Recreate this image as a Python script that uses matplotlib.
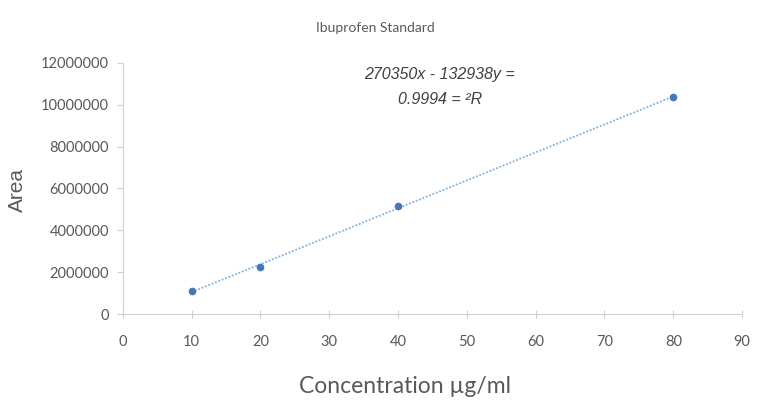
import numpy as np
import matplotlib.pyplot as plt

# data
conc = [10, 20, 40, 80]
area = [1100000, 2250000, 5150000, 10370000]
x_ticks = [0, 10, 20, 30, 40, 50, 60, 70, 80, 90]
y_ticks = [0, 2000000, 4000000, 6000000, 8000000, 10000000, 12000000]

fig = plt.figure(figsize=(7.82, 4.07), dpi=100)
ax = fig.add_axes([0.157, 0.2285, 0.792, 0.617])

# linear trendline through the points
k, b = np.polyfit(conc, area, 1)
xx = np.array([min(conc), max(conc)])
ax.plot(xx, k * xx + b, color='#7fb2dc', lw=1.3, ls=(0, (1, 1)))
ax.plot(conc, area, 'o', color='#4677b8', ms=4.5, zorder=3)

ax.set_xlim(0, 90)
ax.set_ylim(0, 12000000)
ax.set_xticks(x_ticks)
ax.set_yticks(y_ticks)
ax.set_xticklabels([str(t) for t in x_ticks], family='Lato', fontsize=10.5, color='#595959')
ax.set_yticklabels([str(t) for t in y_ticks], family='Lato', fontsize=10.5, color='#595959')

for s in ['top', 'right']:
    ax.spines[s].set_visible(False)
for s in ['left', 'bottom']:
    ax.spines[s].set_color('#d0d0d0')
ax.tick_params(axis='x', direction='inout', length=6, color='#d0d0d0', pad=12)
ax.tick_params(axis='y', direction='out', length=4, color='#d0d0d0', pad=6)

fig.text(0.48, 0.93, 'Ibuprofen Standard', family='Lato', fontsize=10,
         color='#595959', ha='center', va='center')
ax.text(0.512, 0.952, '270350x - 132938y =', transform=ax.transAxes, family='Liberation Sans',
        style='italic', fontsize=11.5, color='#404040', ha='center', va='center')
ax.text(0.512, 0.853, '0.9994 = ²R', transform=ax.transAxes, family='Liberation Sans',
        style='italic', fontsize=11.5, color='#404040', ha='center', va='center')

ax.set_ylabel('Area', family='Liberation Sans', fontsize=15, color='#595959')
ax.yaxis.set_label_coords(-0.154, 0.494)
ax.set_xlabel('Concentration µg/ml', family='Lato', fontsize=16.5, color='#595959')
ax.xaxis.set_label_coords(0.456, -0.247)

fig.savefig('out.png', dpi=100)
